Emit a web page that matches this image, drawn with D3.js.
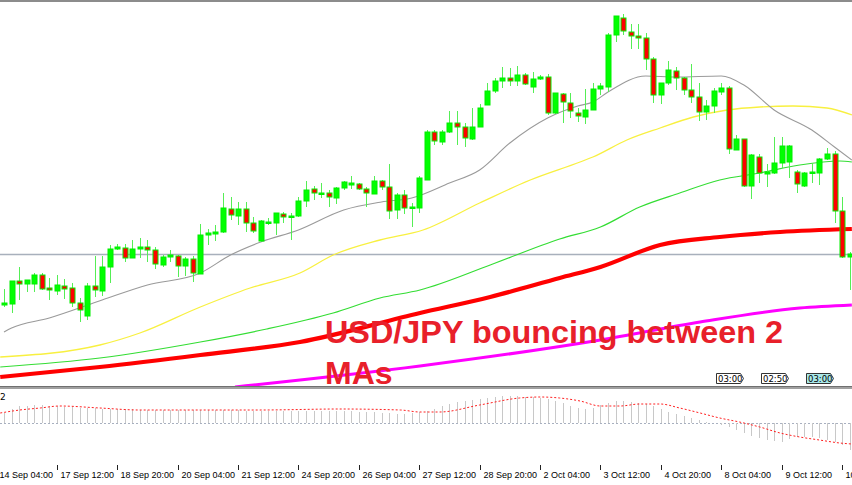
<!DOCTYPE html>
<html><head><meta charset="utf-8">
<script src="https://cdn.jsdelivr.net/npm/d3@7/dist/d3.min.js"></script>
<style>body{margin:0;background:#fff}svg{display:block}</style>
</head><body><svg id="c" width="852" height="485"></svg>
<script>
// OHLC candles (USD/JPY, H4), left to right
const opens  = [111.95,111.96,112.19,112.16,112.16,112.25,112.12,112.09,112.14,112.12,111.97,111.84,112.14,112.09,112.33,112.51,112.52,112.42,112.51,112.53,112.50,112.35,112.43,112.44,112.34,112.41,112.26,112.65,112.66,112.68,112.91,112.84,112.91,112.77,112.59,112.77,112.77,112.86,112.83,112.84,112.99,113.11,113.06,113.07,113.02,113.12,113.15,113.16,113.11,113.06,113.19,113.13,112.90,113.05,112.92,112.92,113.20,113.68,113.58,113.68,113.77,113.73,113.61,113.73,113.95,114.09,114.19,114.22,114.19,114.25,114.13,114.21,114.23,113.87,114.06,113.97,113.87,113.83,113.90,114.11,114.13,114.65,114.82,114.68,114.64,114.62,114.41,114.05,114.17,114.29,114.22,114.10,114.03,113.88,113.94,114.08,114.12,113.50,113.61,113.14,113.43,113.26,113.27,113.37,113.38,113.28,113.14,113.27,113.27,113.41,113.46,112.89,112.43];
const highs  = [112.11,112.19,112.33,112.20,112.27,112.27,112.22,112.25,112.21,112.17,112.02,112.17,112.44,112.44,112.55,112.56,112.56,112.60,112.62,112.60,112.53,112.45,112.50,112.45,112.43,112.44,112.76,112.71,112.75,113.07,113.03,112.98,112.98,112.83,112.80,112.82,112.87,112.88,112.87,113.03,113.19,113.14,113.17,113.10,113.13,113.19,113.24,113.17,113.13,113.24,113.20,113.36,113.07,113.10,112.97,113.24,113.70,113.70,113.70,113.89,113.89,113.77,113.92,113.96,114.17,114.22,114.33,114.32,114.34,114.27,114.28,114.25,114.26,114.07,114.07,114.07,113.92,114.11,114.17,114.17,114.67,114.84,114.86,114.76,114.76,114.67,114.43,114.17,114.39,114.33,114.23,114.36,114.17,114.00,114.12,114.17,114.14,113.65,113.61,113.46,113.46,113.36,113.63,113.63,113.55,113.30,113.28,113.37,113.42,113.52,113.49,113.03,112.48];
const lows   = [111.93,111.87,112.00,112.08,112.08,112.10,112.00,112.05,112.01,111.93,111.78,111.80,112.03,112.04,112.17,112.50,112.38,112.42,112.42,112.38,112.31,112.33,112.38,112.23,112.24,112.18,112.26,112.55,112.59,112.67,112.80,112.75,112.68,112.67,112.58,112.75,112.65,112.77,112.60,112.83,112.93,113.00,113.02,112.93,112.96,113.10,113.11,113.10,112.93,113.06,113.10,112.81,112.81,112.86,112.73,112.87,113.20,113.55,113.55,113.67,113.55,113.53,113.60,113.73,113.95,114.07,114.12,114.14,114.14,114.15,114.07,114.20,113.85,113.86,113.77,113.82,113.78,113.76,113.90,114.05,114.08,114.58,114.65,114.51,114.51,114.30,113.97,113.96,114.15,114.10,114.05,113.97,113.79,113.80,113.87,114.05,113.46,113.50,113.13,113.01,113.17,113.13,113.26,113.32,113.22,113.07,113.13,113.17,113.15,113.40,112.77,112.42,112.10];
const closes = [111.97,112.19,112.16,112.20,112.25,112.11,112.10,112.15,112.11,111.97,111.90,112.14,112.10,112.33,112.51,112.53,112.42,112.51,112.53,112.50,112.36,112.43,112.45,112.34,112.41,112.27,112.65,112.67,112.68,112.92,112.85,112.91,112.77,112.69,112.79,112.78,112.87,112.83,112.84,112.99,113.10,113.07,113.07,113.03,113.12,113.18,113.17,113.11,113.07,113.19,113.13,112.89,113.05,112.92,112.93,113.22,113.68,113.59,113.68,113.77,113.73,113.62,113.73,113.92,114.09,114.19,114.22,114.19,114.25,114.16,114.21,114.23,113.87,114.07,113.98,113.89,113.84,113.90,114.11,114.14,114.65,114.84,114.69,114.64,114.62,114.41,114.05,114.17,114.30,114.22,114.10,114.03,113.88,113.94,114.09,114.12,113.51,113.61,113.14,113.45,113.27,113.28,113.37,113.54,113.54,113.16,113.27,113.28,113.41,113.46,112.89,112.43,112.46];

// Moving averages: candle index -> price
const ma20Idx  = [0,1,6,13,19,26,30,34,39,45,50,54,59,63,67,72,76,78,80,85,89,95,98,102,107,110,112.3];
const ma20Val  = [111.68,111.72,111.82,112.00,112.15,112.27,112.45,112.58,112.70,112.90,112.98,113.02,113.17,113.30,113.57,113.82,113.94,113.98,114.08,114.24,114.23,114.24,114.15,113.90,113.70,113.53,113.40];
const ma50Idx  = [-0.5,12.7,18,26,32.6,39.2,43.6,49.8,55.5,63,69.7,76.3,78,82.5,86.9,91.3,95.8,100.1,104.5,109,112.3];
const ma50Val  = [111.43,111.55,111.67,111.93,112.12,112.27,112.45,112.60,112.70,112.97,113.20,113.38,113.43,113.60,113.72,113.83,113.90,113.93,113.94,113.92,113.85];
const ma100Idx = [-0.5,12.7,26,34.8,43.6,49.8,55.1,64.4,73.6,79,84.2,89.5,94.8,100.1,105.4,110.7,112.3];
const ma100Val = [111.33,111.42,111.58,111.71,111.87,112.02,112.10,112.35,112.61,112.73,112.93,113.07,113.20,113.27,113.35,113.39,113.38];
const ma200Idx = [-0.5,12.7,26,39.2,55.1,64.4,73.6,79,86.9,94.8,102.8,112.3];
const ma200Val = [111.23,111.33,111.45,111.58,111.87,112.03,112.22,112.33,112.55,112.63,112.68,112.71];
const ma500Idx = [30.6,55.1,79,92.2,105.4,112.3];
const ma500Val = [111.13,111.34,111.60,111.78,111.92,111.95];
const hLine = 112.46;

// MACD histogram (one per candle) and signal samples
const macdHist = [0.10,0.14,0.17,0.17,0.18,0.18,0.17,0.17,0.16,0.16,0.15,0.15,0.15,0.14,0.14,0.14,0.14,0.14,0.13,0.13,0.13,0.13,0.13,0.13,0.13,0.13,0.13,0.13,0.13,0.13,0.13,0.13,0.12,0.12,0.12,0.12,0.12,0.12,0.12,0.12,0.12,0.12,0.12,0.12,0.12,0.12,0.12,0.11,0.11,0.11,0.10,0.10,0.09,0.09,0.10,0.11,0.12,0.14,0.17,0.19,0.21,0.22,0.23,0.24,0.25,0.26,0.27,0.27,0.27,0.26,0.26,0.25,0.24,0.22,0.20,0.17,0.15,0.14,0.15,0.18,0.20,0.22,0.22,0.21,0.20,0.19,0.17,0.14,0.11,0.09,0.07,0.05,0.03,0.01,0.00,-0.02,-0.04,-0.07,-0.10,-0.13,-0.15,-0.17,-0.18,-0.19,-0.16,-0.14,-0.14,-0.14,-0.15,-0.17,-0.19,-0.22,-0.27];
const sigIdx = [-0.5,2.1,4.8,7.4,12.7,18,26,33.9,44.5,52.5,55.1,57.7,63,68.3,71,73.6,76.3,79,81.6,84.2,86.9,89.5,92.2,94.8,97.4,100.1,102.8,105.4,108,110.7,112.3];
const sigVal = [0.10,0.13,0.15,0.17,0.15,0.13,0.13,0.13,0.14,0.13,0.11,0.11,0.18,0.25,0.26,0.25,0.22,0.17,0.17,0.19,0.19,0.15,0.10,0.05,0.01,-0.04,-0.10,-0.14,-0.17,-0.20,-0.21];

const tickIdx = [-1,7,15,23,31,39,47,55,63,71,79,87,95,103,111];
const tickLabels = ["14 Sep 04:00","17 Sep 12:00","18 Sep 20:00","20 Sep 04:00","21 Sep 12:00","24 Sep 20:00","26 Sep 04:00","27 Sep 12:00","28 Sep 20:00","2 Oct 04:00","3 Oct 12:00","4 Oct 20:00","8 Oct 04:00","9 Oct 12:00","10 Oct 20:00"];
const timeTags = ["03:00","02:50","03:00"];
const title1 = "USD/JPY bouncing between 2";
const title2 = "MAs";

const svg = d3.select("#c");
const x = d3.scaleLinear().domain([0,112]).range([4,849.6]);
const y = d3.scaleLinear().domain([111.15,114.85]).range([385,15]);
const ys = d3.scaleLinear().domain([-0.38,0.33]).range([461,390]);

svg.append("clipPath").attr("id","mainclip").append("rect").attr("x",0).attr("y",2).attr("width",852).attr("height",384);
svg.append("clipPath").attr("id","subclip").append("rect").attr("x",0).attr("y",390).attr("width",852).attr("height",72);
svg.append("clipPath").attr("id","axclip").append("rect").attr("x",0).attr("y",462).attr("width",852).attr("height",23);
const main = svg.append("g").attr("clip-path","url(#mainclip)");

main.append("line").attr("x1",0).attr("x2",852).attr("y1",Math.round(y(hLine))+0.5).attr("y2",Math.round(y(hLine))+0.5).attr("stroke","#a8b0bc").attr("stroke-width",1.3);

const line = (idx,val) => d3.line().x((d,i)=>x(idx[i])).y((d,i)=>y(val[i])).curve(d3.curveMonotoneX)(val);
main.append("path").attr("d",line(ma500Idx,ma500Val)).attr("fill","none").attr("stroke","#ff00ff").attr("stroke-width",3);
main.append("path").attr("d",line(ma200Idx,ma200Val)).attr("fill","none").attr("stroke","#ff0000").attr("stroke-width",4.2);
main.append("path").attr("d",line(ma100Idx,ma100Val)).attr("fill","none").attr("stroke","#33dd33").attr("stroke-width",1.2);
main.append("path").attr("d",line(ma50Idx,ma50Val)).attr("fill","none").attr("stroke","#f8f040").attr("stroke-width",1.3);
main.append("path").attr("d",line(ma20Idx,ma20Val)).attr("fill","none").attr("stroke","#9a9a9a").attr("stroke-width",1.1);

const c = main.selectAll("g.cd").data(d3.range(opens.length)).join("g");
c.append("line").attr("x1",i=>Math.round(x(i))+0.5).attr("x2",i=>Math.round(x(i))+0.5)
 .attr("y1",i=>y(highs[i])).attr("y2",i=>y(lows[i])).attr("stroke","#55ee55").attr("stroke-width",1);
c.append("rect").attr("x",i=>Math.round(x(i))-2).attr("width",5)
 .attr("y",i=>y(Math.max(opens[i],closes[i])))
 .attr("height",i=>Math.max(1.5,Math.abs(y(opens[i])-y(closes[i]))))
 .attr("fill",i=>closes[i]>=opens[i]?"#00ff00":"#ff0000")
 .attr("stroke","#00ee00").attr("stroke-width",1);

svg.append("text").attr("x",325).attr("y",343).text(title1).attr("textLength",458).attr("lengthAdjust","spacingAndGlyphs")
 .attr("font-family","Liberation Sans, Arial, sans-serif").attr("font-weight","bold").attr("font-size",32).attr("fill","#e8202a");
svg.append("text").attr("x",325).attr("y",384).text(title2)
 .attr("font-family","Liberation Sans, Arial, sans-serif").attr("font-weight","bold").attr("font-size",32).attr("fill","#e8202a");

// time tags
const tagX = [716,761,806];
timeTags.forEach((t,k)=>{
  const g = svg.append("g").attr("transform",`translate(${tagX[k]},373)`);
  g.append("path").attr("d","M0.5,0.5H24.5L27.5,5.5L24.5,10.5H0.5Z").attr("fill",k==2?"#a8e8e8":"#fff").attr("stroke","#333");
  g.append("text").attr("x",2).attr("y",9).text(t).attr("font-family","DejaVu Sans, sans-serif").attr("font-size",8.5).attr("fill","#000");
});

// borders
svg.append("line").attr("x1",0).attr("x2",852).attr("y1",1).attr("y2",1).attr("stroke","#666").attr("stroke-width",1.5);
svg.append("rect").attr("x",0).attr("y",386).attr("width",852).attr("height",3).attr("fill","#a0a0a0");
svg.append("line").attr("x1",0).attr("x2",852).attr("y1",386.5).attr("y2",386.5).attr("stroke","#707070");

// subwindow
const sub = svg.append("g").attr("clip-path","url(#subclip)");
sub.append("line").attr("x1",0).attr("x2",852).attr("y1",ys(0)+0.5).attr("y2",ys(0)+0.5).attr("stroke","#a8b0c0").attr("stroke-dasharray","2,2");
sub.selectAll("line.h").data(macdHist).join("line").attr("class","h")
 .attr("x1",(d,i)=>Math.round(x(i))+0.5).attr("x2",(d,i)=>Math.round(x(i))+0.5)
 .attr("y1",ys(0)).attr("y2",d=>ys(d)).attr("stroke","#c8c8c8").attr("stroke-width",1);
sub.append("path").attr("d",d3.line().x((d,i)=>x(sigIdx[i])).y(d=>ys(d)).curve(d3.curveMonotoneX)(sigVal))
 .attr("fill","none").attr("stroke","#ff2020").attr("stroke-width",1).attr("stroke-dasharray","2,2");
svg.append("text").attr("x",0).attr("y",400).text("2").attr("font-family","DejaVu Sans, sans-serif").attr("font-size",9).attr("fill","#000");

// time axis
const ax = svg.append("g").attr("clip-path","url(#axclip)");
tickIdx.forEach((t,k)=>{
  const xx = Math.round(x(t))+0.5;
  ax.append("line").attr("x1",xx).attr("x2",xx).attr("y1",465).attr("y2",470).attr("stroke","#222");
  ax.append("text").attr("x",xx+3).attr("y",478).text(tickLabels[k]).attr("font-family","Liberation Sans, Arial, sans-serif").attr("font-size",9).attr("fill","#000");
});
</script></body></html>
